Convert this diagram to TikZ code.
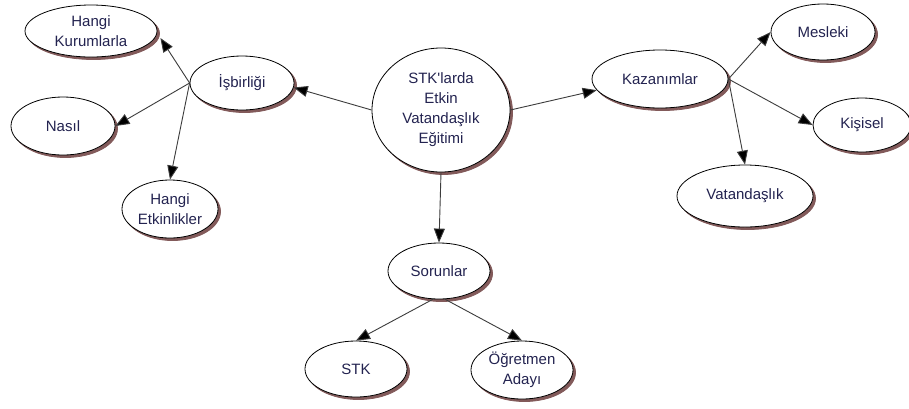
\documentclass[tikz,border=0pt]{standalone}
\usepackage{fontspec}
\newfontfamily\diagfont{Liberation Sans}
\usetikzlibrary{shapes.geometric,arrows.meta,shadows}
\definecolor{txt}{RGB}{35,35,80}
\definecolor{shad}{RGB}{130,90,90}
\definecolor{linec}{RGB}{60,60,60}
\tikzset{
  bub/.style={ellipse, draw=black, line width=0.8pt, fill=white, inner sep=0pt,
    text=txt, align=center, font={\diagfont\fontsize{15}{20}\selectfont},
    copy shadow={shadow xshift=2.5pt, shadow yshift=-2.5pt, draw=shad, fill=shad, line width=0.8pt}},
  conn/.style={draw=linec, line width=0.9pt, -{Triangle[length=14pt,width=11pt,fill=black]}}
}
\begin{document}
\begin{tikzpicture}[x=1pt,y=-1pt]
\useasboundingbox (0,0) rectangle (909,408);
\fill[white] (0,0) rectangle (909,408);
\node[bub, minimum width=138pt, minimum height=124pt] (c) at (441,110) {STK'larda\\Etkin\\Vatandaşlık\\Eğitimi};
\node[bub, minimum width=104pt, minimum height=54pt] (isb) at (242,83) {İşbirliği};
\node[bub, minimum width=132pt, minimum height=52pt] (hk) at (91,31) {Hangi\\Kurumlarla};
\node[bub, minimum width=104pt, minimum height=58pt] (nas) at (63,126) {Nasıl};
\node[bub, minimum width=96pt, minimum height=58pt] (he) at (170,209) {Hangi\\Etkinlikler};
\node[bub, minimum width=136pt, minimum height=58pt] (kaz) at (660,79) {Kazanımlar};
\node[bub, minimum width=104pt, minimum height=56pt] (mes) at (823,32) {Mesleki};
\node[bub, minimum width=98pt, minimum height=54pt] (kis) at (862,125) {Kişisel};
\node[bub, minimum width=136pt, minimum height=62pt] (vat) at (745,196) {Vatandaşlık};
\node[bub, minimum width=102pt, minimum height=56pt] (sor) at (439,271) {Sorunlar};
\node[bub, minimum width=102pt, minimum height=56pt] (stk) at (356,369) {STK};
\node[bub, minimum width=102pt, minimum height=58pt] (ogr) at (522,370) {Öğretmen\\Adayı};

\draw[conn] (c.west) -- (isb.-5);
\draw[conn] (c.east) -- (kaz.190);
\draw[conn] (c.south) -- (sor.north);
\draw[conn] (isb.west) -- ([xshift=3pt,yshift=-7pt]hk.east);
\draw[conn] (isb.west) -- (nas.east);
\draw[conn] (isb.west) -- (he.north);
\draw[conn] (kaz.east) -- (mes.west);
\draw[conn] (kaz.east) -- (kis.west);
\draw[conn] (kaz.east) -- (vat.north);
\draw[conn] (sor.-102) -- (stk.north);
\draw[conn] (sor.-78) -- (ogr.north);
\end{tikzpicture}
\end{document}
